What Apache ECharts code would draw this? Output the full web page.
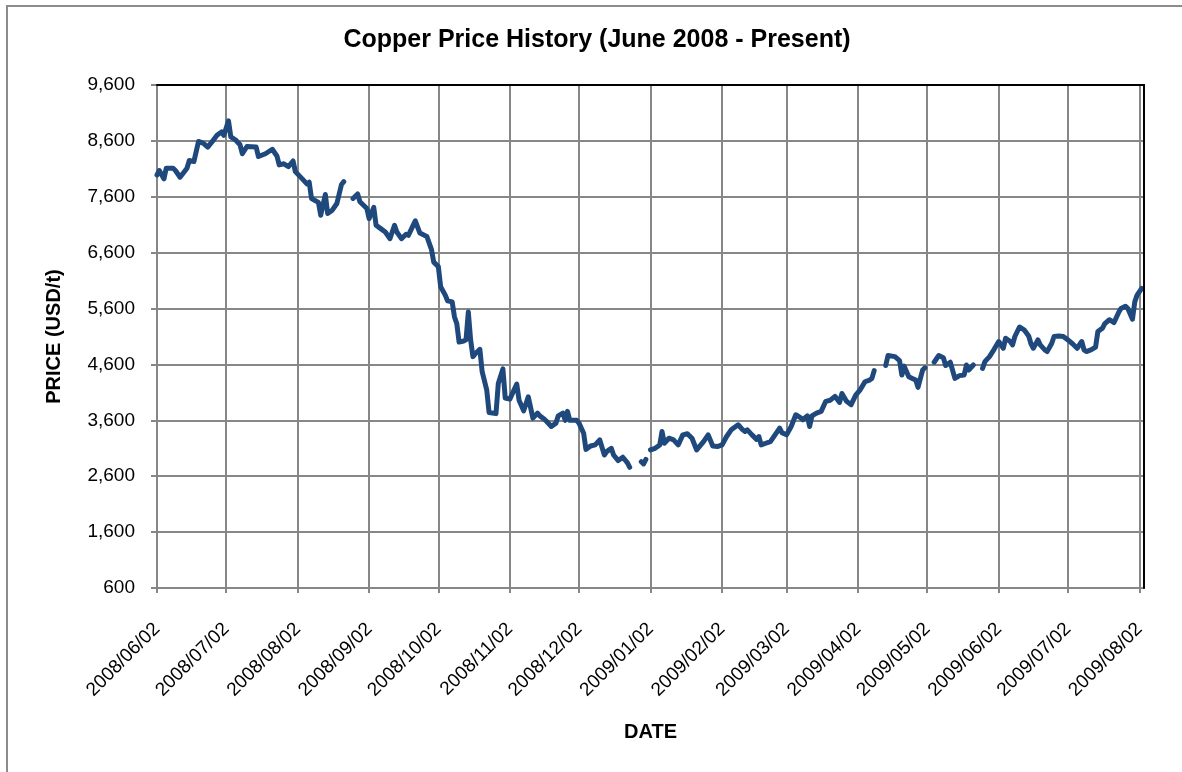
<!DOCTYPE html>
<html>
<head>
<meta charset="utf-8">
<script src="https://cdn.jsdelivr.net/npm/echarts@6/dist/echarts.min.js"></script>
<style>
html,body{margin:0;padding:0;background:#fff;}
#chart{width:1182px;height:772px;}
</style>
</head>
<body>
<div id="chart"></div>
<script>
// ---- data (null = no quote / holiday gap) ----
const dates = [
  '2008-06-02','2008-06-03','2008-06-05','2008-06-06','2008-06-09','2008-06-10','2008-06-12','2008-06-15','2008-06-16','2008-06-18',
  '2008-06-20','2008-06-22','2008-06-24','2008-06-26','2008-06-28','2008-06-30','2008-07-01','2008-07-03','2008-07-04','2008-07-06',
  '2008-07-08','2008-07-09','2008-07-11','2008-07-15','2008-07-16','2008-07-19','2008-07-22','2008-07-24','2008-07-25','2008-07-27',
  '2008-07-29','2008-07-31','2008-08-01','2008-08-04','2008-08-06','2008-08-07','2008-08-08','2008-08-11','2008-08-12','2008-08-14',
  '2008-08-15','2008-08-17','2008-08-19','2008-08-21','2008-08-22','2008-08-25','2008-08-26','2008-08-28','2008-08-29','2008-09-01',
  '2008-09-02','2008-09-04','2008-09-05','2008-09-07','2008-09-09','2008-09-11','2008-09-13','2008-09-14','2008-09-16','2008-09-18',
  '2008-09-19','2008-09-22','2008-09-24','2008-09-27','2008-09-29','2008-09-30','2008-10-02','2008-10-03','2008-10-05','2008-10-06',
  '2008-10-08','2008-10-09','2008-10-10','2008-10-11','2008-10-13','2008-10-14','2008-10-15','2008-10-16','2008-10-17','2008-10-18',
  '2008-10-20','2008-10-21','2008-10-23','2008-10-24','2008-10-27','2008-10-28','2008-10-30','2008-10-31','2008-11-02','2008-11-05',
  '2008-11-06','2008-11-08','2008-11-10','2008-11-12','2008-11-14','2008-11-15','2008-11-17','2008-11-18','2008-11-20','2008-11-22',
  '2008-11-23','2008-11-25','2008-11-26','2008-11-27','2008-11-28','2008-12-01','2008-12-02','2008-12-04','2008-12-05','2008-12-07',
  '2008-12-09','2008-12-11','2008-12-13','2008-12-14','2008-12-16','2008-12-17','2008-12-19','2008-12-21','2008-12-23','2008-12-24',
  '2008-12-25','2008-12-29','2008-12-30','2008-12-31','2009-01-01','2009-01-02','2009-01-04','2009-01-06','2009-01-07','2009-01-08',
  '2009-01-10','2009-01-12','2009-01-14','2009-01-16','2009-01-18','2009-01-20','2009-01-22','2009-01-25','2009-01-27','2009-01-29',
  '2009-01-31','2009-02-02','2009-02-04','2009-02-06','2009-02-09','2009-02-11','2009-02-12','2009-02-13','2009-02-15','2009-02-17',
  '2009-02-18','2009-02-19','2009-02-21','2009-02-23','2009-02-25','2009-02-27','2009-02-28','2009-03-02','2009-03-04','2009-03-06',
  '2009-03-08','2009-03-09','2009-03-11','2009-03-12','2009-03-13','2009-03-15','2009-03-17','2009-03-19','2009-03-21','2009-03-23',
  '2009-03-25','2009-03-26','2009-03-28','2009-03-30','2009-04-01','2009-04-03','2009-04-05','2009-04-07','2009-04-08','2009-04-09',
  '2009-04-10','2009-04-14','2009-04-15','2009-04-18','2009-04-20','2009-04-21','2009-04-22','2009-04-24','2009-04-26','2009-04-27',
  '2009-04-28','2009-04-30','2009-05-01','2009-05-04','2009-05-05','2009-05-07','2009-05-09','2009-05-10','2009-05-12','2009-05-14',
  '2009-05-16','2009-05-18','2009-05-19','2009-05-20','2009-05-22','2009-05-25','2009-05-26','2009-05-27','2009-05-29','2009-05-31',
  '2009-06-02','2009-06-04','2009-06-05','2009-06-07','2009-06-08','2009-06-09','2009-06-11','2009-06-13','2009-06-15','2009-06-16',
  '2009-06-17','2009-06-19','2009-06-20','2009-06-22','2009-06-23','2009-06-25','2009-06-26','2009-06-28','2009-06-30','2009-07-02',
  '2009-07-04','2009-07-06','2009-07-08','2009-07-09','2009-07-10','2009-07-12','2009-07-14','2009-07-15','2009-07-17','2009-07-18',
  '2009-07-20','2009-07-22','2009-07-24','2009-07-25','2009-07-27','2009-07-28','2009-07-30','2009-07-31','2009-08-01','2009-08-03'
];
const prices = [
  7990,8070,7920,8110,8110,8070,7950,8110,8250,8230,
  8590,8560,8490,8590,8700,8760,8700,8960,8670,8620,
  8530,8370,8500,8490,8320,8370,8450,8330,8170,8190,
  8140,8240,8050,7920,7830,7860,7570,7500,7270,7640,
  7300,7360,7480,7820,7870,null,7570,7650,7510,7390,
  7210,7410,7090,7030,6970,6850,7090,6970,6850,6930,
  6910,7170,6950,6890,6660,6430,6350,5990,5840,5740,
  5720,5450,5330,5000,5020,5040,5540,5040,4740,4790,
  4870,4470,4140,3740,3720,4260,4520,4000,3980,4250,
  3960,3770,4020,3640,3730,3680,3620,3580,3490,3550,
  3680,3730,3600,3760,3600,3600,3550,3370,3080,3140,
  3160,3250,2980,3040,3100,2980,2880,2940,2840,2760,
  null,2860,2820,2900,null,3070,3100,3160,3400,3190,
  3280,3250,3160,3340,3360,3280,3070,3220,3340,3140,
  3130,3160,3310,3430,3520,3430,3400,3430,3340,3260,
  3310,3160,3190,3220,3340,3460,3380,3340,3490,3700,
  3650,3610,3680,3490,3680,3730,3760,3940,3960,4030,
  3920,4080,3940,3880,4050,4150,4290,4320,4350,4490,
  null,4580,4760,4740,4670,4410,4570,4380,4340,4320,
  4190,4500,4540,null,4640,4760,4720,4580,4640,4350,
  4400,4410,4590,4500,4590,null,4530,4650,4740,4870,
  5010,4890,5070,5010,4950,5100,5270,5220,5110,4970,
  4890,5040,4950,4860,4830,4980,5100,5110,5100,5040,
  4970,4890,5010,4860,4830,4860,4910,5190,5250,5330,
  5400,5350,5530,5600,5640,5600,5410,5720,5840,5960
];
const xTickLabels = [
  '2008/06/02','2008/07/02','2008/08/02','2008/09/02','2008/10/02','2008/11/02','2008/12/02',
  '2009/01/02','2009/02/02','2009/03/02','2009/04/02','2009/05/02','2009/06/02','2009/07/02','2009/08/02'
];
const yTicks = [600,1600,2600,3600,4600,5600,6600,7600,8600,9600];
const xMin = '2008/06/02';
const xMax = '2009/08/04';

// ---- helpers ----
function parseDay(s){
  const p = s.split(/[\/-]/);
  return new Date(+p[0], +p[1]-1, +p[2]).getTime();
}
function pad(n){ return String(n).padStart(2,'0'); }
function fmtDate(v){
  const d = new Date(v);
  return d.getFullYear() + '/' + pad(d.getMonth()+1) + '/' + pad(d.getDate());
}
function fmtNum(v){ return String(v).replace(/\B(?=(\d{3})+(?!\d))/g, ','); }

const tickValues = xTickLabels.map(parseDay);
const seriesData = dates.map((d,i) => [parseDay(d), prices[i] == null ? '-' : prices[i]]);

const FONT = '"Liberation Sans", Arial, Helvetica, sans-serif';
const GRID_GREY = '#878787';

const chart = echarts.init(document.getElementById('chart'), null, {renderer:'canvas'});
chart.setOption({
  animation: false,
  backgroundColor: '#ffffff',
  textStyle: {fontFamily: FONT},
  title: {
    text: 'Copper Price History (June 2008 - Present)',
    left: 597, top: 28, padding: 0, textAlign: 'center',
    textStyle: {fontFamily: FONT, fontSize: 25, fontWeight: 'bold', color: '#000'}
  },
  graphic: [{
    type: 'rect', silent: true, z: -1,
    shape: {x: 7, y: 6, width: 1220, height: 820},
    style: {fill: null, stroke: '#8c8c8c', lineWidth: 2}
  }],
  grid: {left: 157, right: 38, top: 85, bottom: 184, outerBoundsMode: 'none', containLabel: false},
  xAxis: [{
    type: 'value',
    min: parseDay(xMin), max: parseDay(xMax),
    position: 'bottom',
    name: 'DATE', nameLocation: 'middle', nameGap: 134,
    nameTextStyle: {fontFamily: FONT, fontSize: 20, fontWeight: 'bold', color: '#000'},
    axisLine: {show: true, onZero: false, lineStyle: {color: GRID_GREY, width: 2}},
    axisTick: {show: true, customValues: tickValues, length: 5, inside: false, lineStyle: {color: GRID_GREY, width: 2}},
    axisLabel: {customValues: tickValues, formatter: fmtDate, rotate: 45, margin: 38,
      fontFamily: FONT, fontSize: 19, color: '#000'},
    splitLine: {show: true, lineStyle: {color: GRID_GREY, width: 2}}
  }, {
    type: 'value',
    min: parseDay(xMin), max: parseDay(xMax),
    position: 'top', z: 10,
    axisLine: {show: true, onZero: false, lineStyle: {color: '#000', width: 2}},
    axisTick: {show: false}, axisLabel: {show: false}, splitLine: {show: false}
  }],
  yAxis: [{
    type: 'value',
    min: yTicks[0], max: yTicks[yTicks.length-1], interval: yTicks[1]-yTicks[0],
    position: 'left',
    name: 'PRICE (USD/t)', nameLocation: 'middle', nameRotate: 90, nameGap: 93,
    nameTextStyle: {fontFamily: FONT, fontSize: 20, fontWeight: 'bold', color: '#000'},
    axisLine: {show: true, onZero: false, lineStyle: {color: GRID_GREY, width: 2}},
    axisTick: {show: true, length: 6, inside: false, lineStyle: {color: GRID_GREY, width: 2}},
    axisLabel: {formatter: fmtNum, margin: 22, fontFamily: FONT, fontSize: 19, color: '#000'},
    splitLine: {show: true, lineStyle: {color: GRID_GREY, width: 2}}
  }, {
    type: 'value',
    min: yTicks[0], max: yTicks[yTicks.length-1], interval: yTicks[1]-yTicks[0],
    position: 'right', z: 10,
    axisLine: {show: true, onZero: false, lineStyle: {color: '#000', width: 2}},
    axisTick: {show: false}, axisLabel: {show: false}, splitLine: {show: false}
  }],
  series: [{
    type: 'line',
    xAxisIndex: 0, yAxisIndex: 0,
    data: seriesData,
    symbol: 'none', showSymbol: false,
    connectNulls: false,
    z: 5,
    lineStyle: {color: '#1F497D', width: 5, cap: 'round', join: 'round'},
    itemStyle: {color: '#1F497D'}
  }]
});
</script>
</body>
</html>
